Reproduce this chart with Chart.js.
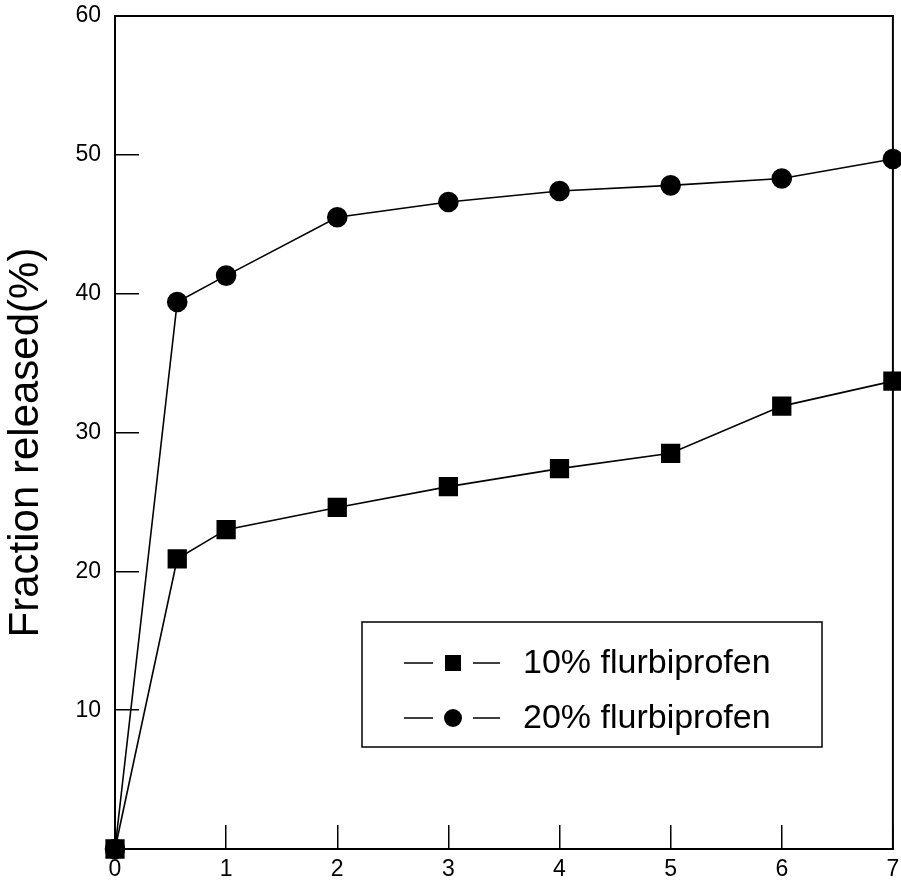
<!DOCTYPE html>
<html>
<head>
<meta charset="utf-8">
<script src="https://cdn.jsdelivr.net/npm/chart.js@4/dist/chart.umd.min.js"></script>
<style>
  html, body { margin: 0; padding: 0; background: #fff; overflow: hidden; }
  #wrap { width: 901px; height: 880px; overflow: hidden; }
</style>
</head>
<body>
<!-- el lienzo sobresale 6px para que el borde derecho quede en x=893 -->
<div id="wrap"><canvas id="grafico" width="907" height="880"></canvas></div>
<script>
// datos
const tiempos = [0, 0.56, 1, 2, 3, 4, 5, 6, 7];
const flurbi10 = [0, 20.9, 23.0, 24.6, 26.1, 27.4, 28.5, 31.9, 33.7];
const flurbi20 = [0, 39.4, 41.3, 45.5, 46.6, 47.4, 47.8, 48.3, 49.7];
const etiquetas = ["10% flurbiprofen", "20% flurbiprofen"];
const tituloY = "Fraction released(%)";
const xTicks = [0, 1, 2, 3, 4, 5, 6, 7];
const yTicks = [0, 10, 20, 30, 40, 50, 60];

const fuente = "'Liberation Sans', Arial, Helvetica, sans-serif";

function puntos(ys) {
  return tiempos.map((t, i) => ({ x: t, y: ys[i] }));
}

// sin relleno extra por las etiquetas (el padding de ticks lo inflaba)
function sinPadding(s) {
  s.paddingLeft = 0;
  s.paddingRight = 0;
  s.paddingTop = 0;
  s.paddingBottom = 0;
}

// marco, titulo del eje Y y leyenda dentro del area
const marcoYLeyenda = {
  id: "marcoYLeyenda",
  afterDraw(chart) {
    const ctx = chart.ctx;
    const ca = chart.chartArea;
    ctx.save();
    ctx.strokeStyle = "#000";
    ctx.lineWidth = 2;
    ctx.strokeRect(ca.left, ca.top, ca.right - ca.left, ca.bottom - ca.top);

    // titulo vertical
    ctx.save();
    ctx.translate(26, (ca.top + ca.bottom) / 2 + 10);
    ctx.rotate(-Math.PI / 2);
    ctx.fillStyle = "#000";
    ctx.font = "42px " + fuente;
    ctx.textAlign = "center";
    ctx.textBaseline = "middle";
    ctx.fillText(tituloY, 0, 0);
    ctx.restore();

    // caja de la leyenda
    const bx = ca.left + 247, by = ca.top + 606, bw = 460, bh = 125;
    ctx.lineWidth = 1.5;
    ctx.strokeRect(bx, by, bw, bh);

    const filas = [by + 41, by + 96];
    chart.data.datasets.forEach((ds, i) => {
      const y = filas[i];
      ctx.lineWidth = 1.5;
      ctx.beginPath();
      ctx.moveTo(bx + 42, y); ctx.lineTo(bx + 71, y);
      ctx.moveTo(bx + 111, y); ctx.lineTo(bx + 138, y);
      ctx.stroke();
      ctx.fillStyle = "#000";
      const cx = bx + 91;
      if (ds.pointStyle === "rect") {
        ctx.fillRect(cx - 8, y - 8, 16, 16);
      } else {
        ctx.beginPath();
        ctx.arc(cx, y, 9, 0, Math.PI * 2);
        ctx.fill();
      }
      ctx.font = "34px " + fuente;
      ctx.textBaseline = "middle";
      ctx.textAlign = "left";
      ctx.fillText(ds.label, bx + 161, y + 1);
    });
    ctx.restore();
  },
};

new Chart(document.getElementById("grafico"), {
  type: "line",
  data: {
    datasets: [
      {
        label: etiquetas[0],
        data: puntos(flurbi10),
        borderColor: "#000",
        backgroundColor: "#000",
        borderWidth: 1.6,
        pointStyle: "rect",
        pointRadius: 12.5,
        pointHoverRadius: 12.5,
        tension: 0,
        clip: false,
      },
      {
        label: etiquetas[1],
        data: puntos(flurbi20),
        borderColor: "#000",
        backgroundColor: "#000",
        borderWidth: 1.6,
        pointStyle: "circle",
        pointRadius: 9.5,
        pointHoverRadius: 9.5,
        tension: 0,
        clip: false,
      },
    ],
  },
  options: {
    responsive: false,
    animation: false,
    layout: { padding: { top: 16, right: 2, left: 0, bottom: 0 } },
    plugins: {
      legend: { display: false },
      tooltip: { enabled: false },
    },
    scales: {
      x: {
        type: "linear",
        min: 0,
        max: 7,
        afterBuildTicks: (s) => { s.ticks = xTicks.map((v) => ({ value: v })); },
        afterFit: (s) => { s.height = 31; sinPadding(s); },
        ticks: {
          color: "#000",
          font: { family: fuente, size: 23 },
          padding: 31,
          maxRotation: 0,
        },
        grid: {
          drawOnChartArea: false,
          tickLength: -24,
          color: "#000",
          lineWidth: 1.5,
        },
        border: { display: true, color: "#000", width: 2 },
      },
      y: {
        type: "linear",
        min: 0,
        max: 60,
        afterBuildTicks: (s) => { s.ticks = yTicks.map((v) => ({ value: v })); },
        afterFit: (s) => { s.width = 115; sinPadding(s); },
        ticks: {
          color: "#000",
          font: { family: fuente, size: 23 },
          padding: 38,
          callback: (v) => (v === 0 ? "" : v),
        },
        grid: {
          drawOnChartArea: false,
          tickLength: -24,
          color: "#000",
          lineWidth: 1.5,
        },
        border: { display: true, color: "#000", width: 2 },
      },
    },
  },
  plugins: [marcoYLeyenda],
});
</script>
</body>
</html>
